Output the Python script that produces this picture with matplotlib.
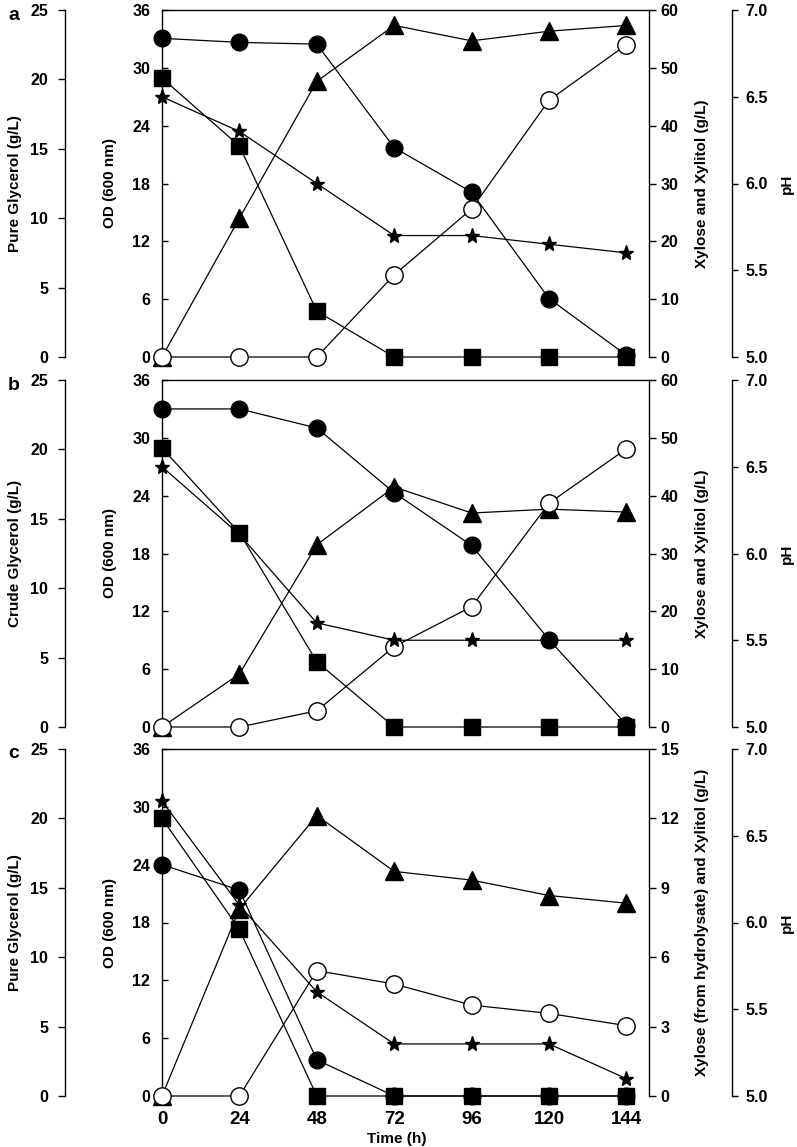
import matplotlib

matplotlib.use("Agg")
import matplotlib.pyplot as plt

plt.rcParams["font.family"] = ["Liberation Sans", "DejaVu Sans"]
plt.rcParams["font.weight"] = "bold"

TIME = [0, 24, 48, 72, 96, 120, 144]

# panel a: pure glycerol
glycerol_a = [20.1, 15.2, 3.3, 0, 0, 0, 0]
od_a = [0, 14.4, 28.6, 34.4, 32.8, 33.8, 34.4]
xylose_a = [55.1, 54.4, 54.1, 36.2, 28.5, 10.1, 0.3]
xylitol_a = [0, 0, 0, 14.2, 25.6, 44.4, 54.0]
ph_a = [6.50, 6.30, 6.00, 5.70, 5.70, 5.65, 5.60]

# panel b: crude glycerol
glycerol_b = [20.1, 14.0, 4.7, 0, 0, 0, 0]
od_b = [0, 5.5, 18.9, 24.9, 22.2, 22.6, 22.3]
xylose_b = [55.0, 55.0, 51.7, 40.5, 31.4, 15.1, 0.4]
xylitol_b = [0, 0, 2.8, 13.9, 20.8, 38.7, 48.1]
ph_b = [6.50, 6.11, 5.60, 5.50, 5.50, 5.50, 5.50]

# panel c: pure glycerol + hydrolysate xylose
glycerol_c = [20.0, 12.0, 0, 0, 0, 0, 0]
od_c = [0, 19.4, 29.1, 23.3, 22.4, 20.8, 20.0]
xylose_c = [10.0, 8.9, 1.56, 0, 0, 0, 0]
xylitol_c = [0, 0, 5.42, 4.84, 3.93, 3.57, 3.04]
ph_c = [6.70, 6.10, 5.60, 5.30, 5.30, 5.30, 5.10]

W_PX, H_PX = 797, 1147
LEFT_PX, RIGHT_PX = 162, 649
PANEL_H_PX = 347
TICK_FS = 11.5
LABEL_FS = 11


def _line(ax, y, marker, ms, face):
    ax.plot(TIME, y, color="black", lw=0.9, marker=marker, ms=ms,
            mfc=face, mec="black", mew=1.0, clip_on=False)


def _only_spine(ax, name):
    for k, s in ax.spines.items():
        s.set_visible(k == name)
    ax.spines[name].set_linewidth(1.0)


def draw_panel(fig, top_px, letter, glycerol, od, xylose, xylitol, ph,
               gly_label, xy_label, xy_max, xy_step, show_x):
    width = (RIGHT_PX - LEFT_PX) / W_PX
    bottom = 1 - (top_px + PANEL_H_PX) / H_PX
    ax = fig.add_axes([LEFT_PX / W_PX, bottom, width, PANEL_H_PX / H_PX])
    ax.patch.set_alpha(0)
    ax.set_xlim(0, 151)
    ax.set_ylim(0, 36)
    ax.set_yticks(range(0, 37, 6))
    for k in ("bottom", "right"):
        ax.spines[k].set_visible(False)
    for k in ("top", "left"):
        ax.spines[k].set_linewidth(1.0)
    ax.tick_params(axis="y", direction="in", length=4, width=1, pad=8.5, labelsize=TICK_FS)
    ax.set_ylabel("OD (600 nm)", fontsize=LABEL_FS, fontweight="bold")
    ax.yaxis.set_label_coords(-0.092, 0.5)
    ax.set_xticks(TIME)
    if show_x:
        ax.tick_params(axis="x", length=0, pad=11, labelsize=13.5)
    else:
        ax.tick_params(axis="x", length=0, labelbottom=False)

    # xylose / xylitol axis
    ax_x = ax.twinx()
    _only_spine(ax_x, "right")
    ax_x.set_ylim(0, xy_max)
    ax_x.set_yticks([xy_step * i for i in range(int(round(xy_max / xy_step)) + 1)])
    ax_x.tick_params(axis="y", direction="out", length=5, width=1, pad=3.5, labelsize=TICK_FS)
    ax_x.set_ylabel(xy_label, fontsize=LABEL_FS, fontweight="bold")
    ax_x.yaxis.set_label_coords(1.094, 0.5)

    # pH axis
    ax_p = ax.twinx()
    _only_spine(ax_p, "right")
    ax_p.spines["right"].set_position(("axes", 1.1704))
    ax_p.set_ylim(5.0, 7.0)
    ax_p.set_yticks([5.0, 5.5, 6.0, 6.5, 7.0])
    ax_p.set_yticklabels(["5.0", "5.5", "6.0", "6.5", "7.0"])
    ax_p.tick_params(axis="y", direction="out", length=4, width=1, pad=6, labelsize=TICK_FS)
    ax_p.set_ylabel("pH", fontsize=LABEL_FS, fontweight="bold")
    ax_p.yaxis.set_label_coords(1.268, 0.5)

    # glycerol axis on the far left
    ax_g = ax.twinx()
    _only_spine(ax_g, "left")
    ax_g.spines["left"].set_position(("axes", -0.1992))
    ax_g.yaxis.set_ticks_position("left")
    ax_g.yaxis.set_label_position("left")
    ax_g.set_ylim(0, 25)
    ax_g.set_yticks(range(0, 26, 5))
    ax_g.tick_params(axis="y", direction="out", length=5, width=1, pad=7, labelsize=TICK_FS)
    ax_g.set_ylabel(gly_label, fontsize=LABEL_FS, fontweight="bold")
    ax_g.yaxis.set_label_coords(-0.287, 0.5)

    _line(ax, od, "^", 12.5, "black")
    _line(ax_x, xylose, "o", 12, "black")
    _line(ax_x, xylitol, "o", 12.5, "white")
    _line(ax_p, ph, "*", 11, "black")
    _line(ax_g, glycerol, "s", 11, "black")

    fig.text(8 / W_PX, 1 - (top_px + 5) / H_PX, letter, fontsize=14,
             fontweight="bold", ha="left", va="center")


def main() -> None:
    fig = plt.figure(figsize=(W_PX / 100, H_PX / 100), dpi=100)
    draw_panel(fig, 10, "a", glycerol_a, od_a, xylose_a, xylitol_a, ph_a,
               "Pure Glycerol (g/L)", "Xylose and Xylitol (g/L)", 60, 10, False)
    draw_panel(fig, 380, "b", glycerol_b, od_b, xylose_b, xylitol_b, ph_b,
               "Crude Glycerol (g/L)", "Xylose and Xylitol (g/L)", 60, 10, False)
    draw_panel(fig, 749, "c", glycerol_c, od_c, xylose_c, xylitol_c, ph_c,
               "Pure Glycerol (g/L)", "Xylose (from hydrolysate) and Xylitol (g/L)", 15, 3, True)
    fig.text(397 / W_PX, 1 - 1146 / H_PX, "Time (h)", fontsize=11,
             fontweight="bold", ha="center", va="bottom")
    fig.savefig("out.png", dpi=100)
    plt.close(fig)


if __name__ == "__main__":
    main()
